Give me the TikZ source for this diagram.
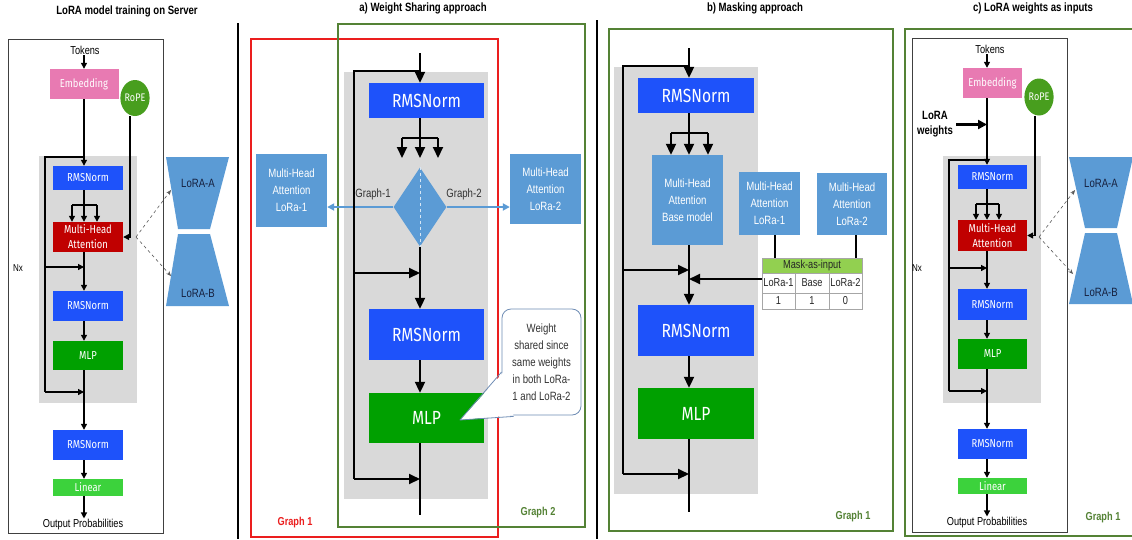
\documentclass[tikz,border=0pt]{standalone}
\usepackage{fontspec}
\setmainfont{Liberation Sans}
\newfontfamily\nar{Liberation Sans}[FakeStretch=0.8]
\newfontfamily\ubu{Fira Sans}[FakeStretch=0.82]
\usetikzlibrary{arrows.meta,shapes.geometric}
\definecolor{bluec}{RGB}{30,82,250}
\definecolor{pinkc}{RGB}{232,122,178}
\definecolor{redc}{RGB}{192,0,0}
\definecolor{mlpc}{RGB}{0,160,0}
\definecolor{linc}{RGB}{60,210,60}
\definecolor{ropec}{RGB}{72,158,30}
\definecolor{steel}{RGB}{91,155,213}
\definecolor{grayb}{RGB}{217,217,217}
\definecolor{framegreen}{RGB}{84,130,53}
\definecolor{framered}{RGB}{235,30,30}
\definecolor{maskc}{RGB}{146,208,80}
\definecolor{navy}{RGB}{22,32,62}
\definecolor{calb}{RGB}{110,140,180}
\tikzset{
  bx/.style={inner sep=0pt, text=white, align=center, font=\ubu\fontsize{11.5}{15}\selectfont},
  bxb/.style={inner sep=0pt, text=white, align=center, font=\ubu\fontsize{19}{22}\selectfont},
  lb/.style={inner sep=0pt, text=white, fill=steel, align=center, font=\nar\fontsize{12}{17}\selectfont},
  txt/.style={inner sep=1pt, font=\nar\fontsize{11.5}{13}\selectfont},
  ttl/.style={inner sep=1pt, font=\nar\bfseries\fontsize{12}{14}\selectfont},
  glbl/.style={inner sep=1pt, font=\nar\bfseries\fontsize{11.5}{13}\selectfont},
  lbl/.style={inner sep=1pt, text=black!80, font=\nar\fontsize{12}{14}\selectfont},
  lt/.style={inner sep=0pt, text=navy, font=\nar\fontsize{12}{14}\selectfont},
  cell/.style={draw=gray!70, fill=white, inner sep=0pt, minimum height=20pt, text=black!85, font=\nar\fontsize{11.5}{13}\selectfont},
  ln/.style={line width=1.3pt},
  sarr/.style={line width=1.3pt, -{Triangle[length=6pt,width=6pt]}},
  bln/.style={line width=2pt},
  barr/.style={line width=2pt, -{Triangle[length=11pt,width=10pt]}},
  dsh/.style={dashed, line width=0.6pt, draw=black!65, -{Stealth[length=5pt,width=4pt]}},
  starr/.style={draw=steel, line width=1.8pt, -{Triangle[length=7pt,width=7pt]}},
  frame/.style={draw=black!75, line width=1pt},
  greenf/.style={draw=framegreen, line width=2pt},
  redf/.style={draw=framered, line width=2pt},
}
\begin{document}
\begin{tikzpicture}[x=1pt,y=-1pt]
\useasboundingbox (0,0) rectangle (1132,539);
\fill[white] (0,0) rectangle (1132,539);

%%%%%%%%%%%%%%%% Left panel
\node[ttl] (t0) at (127,11) {LoRA model training on Server};
\draw[frame] (8,39) rectangle (163,533);
\fill[grayb] (39,156) rectangle (137,403);
\node[txt] (tok1) at (85,50) {Tokens};
\node[bx, fill=pinkc, minimum width=69pt, minimum height=30pt] (emb1) at (84,84) {Embedding};
\node[ellipse, fill=ropec, minimum width=29pt, minimum height=36pt, inner sep=0pt, text=white, font=\ubu\fontsize{11}{13}\selectfont] (rope1) at (135,98) {RoPE};
\node[bx, fill=bluec, minimum width=70pt, minimum height=24pt] (rms1a) at (88,178) {RMSNorm};
\node[bx, fill=redc, minimum width=70pt, minimum height=30pt] (att1) at (88,237) {Multi-Head\\Attention};
\node[bx, fill=bluec, minimum width=70pt, minimum height=30pt] (rms1b) at (88,306) {RMSNorm};
\node[bx, fill=mlpc, minimum width=70pt, minimum height=29pt] (mlp1) at (88,355.5) {MLP};
\node[bx, fill=bluec, minimum width=70pt, minimum height=30pt] (rms1c) at (88,445) {RMSNorm};
\node[bx, fill=linc, minimum width=70pt, minimum height=17pt] (lin1) at (88,487.5) {Linear};
\node[txt] (out1) at (83,525) {Output Probabilities};
\node[txt, font=\nar\fontsize{10}{12}\selectfont] (nx1) at (18,268) {Nx};
\coordinate (f1) at (84,205);
\coordinate (r1) at (45,157);
\coordinate (r1m) at (45,267);
\coordinate (r1b) at (45,392);
\draw[sarr] (tok1.south -| f1) -- (f1 |- emb1.north);
\draw[sarr] (emb1.south -| f1) -- (f1 |- rms1a.north);
\draw[ln] (rms1a.south -| f1) -- (f1);
\draw[ln] ([xshift=-12pt]f1) -- ([xshift=13pt]f1);
\foreach \d in {-12,0,13} \draw[sarr] ([xshift=\d pt]f1) -- ([xshift=\d pt]f1 |- att1.north);
\draw[sarr] (att1.south -| f1) -- (f1 |- rms1b.north);
\draw[sarr] (rms1b.south -| f1) -- (f1 |- mlp1.north);
\draw[sarr] (mlp1.south -| f1) -- (f1 |- rms1c.north);
\draw[sarr] (rms1c.south -| f1) -- (f1 |- lin1.north);
\draw[sarr] (lin1.south -| f1) -- (f1 |- out1.north);
\draw[ln] (f1 |- r1) -- (r1) -- (r1b);
\draw[sarr] (r1m) -- (r1m -| f1);
\draw[sarr] (r1b) -- (r1b -| f1);
\draw[sarr] ([xshift=-5pt]rope1.south) -- ([xshift=-5pt]rope1.south |- att1.east) -- (att1.east);
\fill[steel] (166,157) -- (229,157) -- (210,229) -- (178,229) -- cycle;
\fill[steel] (178,234) -- (210,234) -- (229,306) -- (166,306) -- cycle;
\node[lt] (la1) at (198,183) {LoRA-A};
\node[lt] (lb1) at (198,293) {LoRA-B};
\coordinate (d1) at (136,237);
\coordinate (da1) at (171,190);
\coordinate (db1) at (171,276);
\draw[dsh] (d1) -- (da1);
\draw[dsh] (d1) -- (db1);

\draw[line width=2.5pt] (238,23) -- (238,539);

%%%%%%%%%%%%%%%% Panel a
\node[ttl] (ta0) at (423,8) {a) Weight Sharing approach};
\fill[grayb] (344,72) rectangle (488,499);
\draw[redf] (251,39) rectangle (498,537);
\draw[greenf] (338,24) rectangle (585,527);
\coordinate (ta) at (420,53);
\coordinate (f2) at (420,138);
\coordinate (f2e) at (420,158);
\coordinate (r2) at (354,71);
\coordinate (r2m) at (354,273);
\coordinate (r2b) at (354,479);
\coordinate (ea) at (420,515);
\node[bxb, fill=bluec, minimum width=115pt, minimum height=35pt] (rms2a) at (426.5,100.5) {RMSNorm};
\node[diamond, fill=steel, minimum width=53pt, minimum height=79pt, inner sep=0pt] (dia) at (420,207) {};
\draw[white!75!steel, dashed, line width=0.6pt] (dia.north) -- (dia.south);
\node[lb, minimum width=71pt, minimum height=73pt] (l1a) at (291.5,190.5) {Multi-Head\\Attention\\LoRa-1};
\node[lb, minimum width=71pt, minimum height=70pt] (l2a) at (545.5,189) {Multi-Head\\Attention\\LoRa-2};
\node[lbl] (g1a) at (373,194) {Graph-1};
\node[lbl] (g2a) at (464,194) {Graph-2};
\node[bxb, fill=bluec, minimum width=115pt, minimum height=51pt] (rms2b) at (426.5,334.5) {RMSNorm};
\node[bxb, fill=mlpc, minimum width=115pt, minimum height=50pt] (mlp2) at (426.5,418) {MLP};
\draw[barr] (ta) -- (ta |- rms2a.north);
\draw[bln] (rms2a.south -| f2) -- (f2);
\draw[bln] ([xshift=-18pt]f2) -- ([xshift=18pt]f2);
\foreach \d in {-18,0,18} \draw[barr] ([xshift=\d pt]f2) -- ([xshift=\d pt]f2e);
\draw[starr] (dia.west) -- (dia.west -| l1a.east);
\draw[starr] (dia.east) -- (dia.east -| l2a.west);
\draw[barr] (dia.south) -- (dia.south |- rms2b.north);
\draw[barr] (rms2b.south -| ta) -- (ta |- mlp2.north);
\draw[bln] (mlp2.south -| ta) -- (ea);
\draw[bln] (ta |- r2) -- (r2) -- (r2b);
\draw[barr] (r2m) -- (r2m -| ta);
\draw[barr] (r2b) -- (r2b -| ta);
\node[draw=calb, line width=0.8pt, fill=white, rounded corners=9pt, minimum width=79pt, minimum height=106pt, align=center, inner sep=0pt, text=black!80, font=\nar\fontsize{12}{17}\selectfont] (call) at (541.5,362) {Weight\\shared since\\same weights\\in both LoRa-\\1 and LoRa-2};
\coordinate (ctip) at (460,420);
\coordinate (cA) at ([yshift=-10pt]call.west);
\coordinate (cB) at ([xshift=12pt,yshift=-1pt]call.south west);
\fill[white] ([xshift=2pt]cA) -- (ctip) -- ([yshift=1pt]cB) -- ([xshift=8pt,yshift=12pt]call.south west) -- cycle;
\draw[draw=calb, line width=0.8pt, line join=round] (cA) -- (ctip) -- (cB);
\node[glbl, text=framered] (gr1) at (295,523) {Graph 1};
\node[glbl, text=framegreen] (gr2) at (538,513) {Graph 2};

\draw[line width=2.5pt] (597,20) -- (597,539);

%%%%%%%%%%%%%%%% Panel b
\node[ttl] (tb0) at (755,8) {b) Masking approach};
\draw[greenf] (609,29) rectangle (893,531);
\fill[grayb] (614,67) rectangle (758,494);
\coordinate (tb) at (689,48);
\coordinate (f3) at (689,133);
\coordinate (r3) at (623,66);
\coordinate (r3m) at (623,270);
\coordinate (r3b) at (623,474);
\coordinate (eb) at (689,512);
\node[bxb, fill=bluec, minimum width=116pt, minimum height=35pt] (rms3a) at (696,95.5) {RMSNorm};
\node[lb, minimum width=71pt, minimum height=90pt] (base) at (687.5,200) {Multi-Head\\Attention\\Base model};
\node[lb, minimum width=61pt, minimum height=63pt] (l1b) at (769.5,203.5) {Multi-Head\\Attention\\LoRa-1};
\node[lb, minimum width=70pt, minimum height=62pt] (l2b) at (852,204) {Multi-Head\\Attention\\LoRa-2};
\node[draw=gray!70, fill=maskc, inner sep=0pt, minimum width=100pt, minimum height=15pt, text=black!85, font=\nar\fontsize{11.5}{13}\selectfont] (mhdr) at (812,265.5) {Mask-as-input};
\node[cell, minimum width=33pt] (c11) at (778.5,283) {LoRa-1};
\node[cell, minimum width=34pt] (c12) at (812,283) {Base};
\node[cell, minimum width=33pt] (c13) at (845.5,283) {LoRa-2};
\node[cell, minimum width=33pt, minimum height=16pt] (c21) at (778.5,301) {1};
\node[cell, minimum width=34pt, minimum height=16pt] (c22) at (812,301) {1};
\node[cell, minimum width=33pt, minimum height=16pt] (c23) at (845.5,301) {0};
\node[bxb, fill=bluec, minimum width=116pt, minimum height=51pt] (rms3b) at (696,330.5) {RMSNorm};
\node[bxb, fill=mlpc, minimum width=116pt, minimum height=51pt] (mlp3) at (696,413.5) {MLP};
\draw[barr] (tb) -- (tb |- rms3a.north);
\draw[bln] (rms3a.south -| f3) -- (f3);
\draw[bln] ([xshift=-18pt]f3) -- ([xshift=19pt]f3);
\foreach \d in {-18,0,19} \draw[barr] ([xshift=\d pt]f3) -- ([xshift=\d pt]f3 |- base.north);
\draw[bln] ([xshift=5pt]l1b.south) -- ([xshift=5pt]l1b.south |- mhdr.north);
\draw[bln] ([xshift=4pt]l2b.south) -- ([xshift=4pt]l2b.south |- mhdr.north);
\draw[barr] ([yshift=4pt]c11.west) -- ([yshift=4pt]c11.west -| tb);
\draw[barr] (base.south -| tb) -- (tb |- rms3b.north);
\draw[barr] (rms3b.south -| tb) -- (tb |- mlp3.north);
\draw[bln] (mlp3.south -| tb) -- (eb);
\draw[bln] (tb |- r3) -- (r3) -- (r3b);
\draw[barr] (r3m) -- (r3m -| tb);
\draw[barr] (r3b) -- (r3b -| tb);
\node[glbl, text=framegreen] (gb1) at (853,517) {Graph 1};

%%%%%%%%%%%%%%%% Panel c
\node[ttl] (tc0) at (1033,8) {c) LoRA weights as inputs};
\draw[greenf] (905,29) rectangle (1140,536);
\draw[frame] (912,38) rectangle (1067,532);
\fill[grayb] (943,156) rectangle (1041,403);
\node[txt] (tok3) at (990,49) {Tokens};
\node[bx, fill=pinkc, minimum width=59pt, minimum height=30pt] (emb3) at (992.5,83) {Embedding};
\node[ellipse, fill=ropec, minimum width=29pt, minimum height=37pt, inner sep=0pt, text=white, font=\ubu\fontsize{11}{13}\selectfont] (rope3) at (1039,97) {RoPE};
\node[bx, fill=bluec, minimum width=69pt, minimum height=24pt] (rms4a) at (992.5,177) {RMSNorm};
\node[bx, fill=redc, minimum width=69pt, minimum height=31pt] (att4) at (992.5,235.5) {Multi-Head\\Attention};
\node[bx, fill=bluec, minimum width=69pt, minimum height=31pt] (rms4b) at (992.5,304.5) {RMSNorm};
\node[bx, fill=mlpc, minimum width=69pt, minimum height=30pt] (mlp4) at (992.5,354) {MLP};
\node[bx, fill=bluec, minimum width=69pt, minimum height=30pt] (rms4c) at (992.5,444) {RMSNorm};
\node[bx, fill=linc, minimum width=69pt, minimum height=16pt] (lin4) at (992.5,486) {Linear};
\node[txt] (out4) at (987,523) {Output Probabilities};
\node[txt, font=\nar\fontsize{10}{12}\selectfont] (nx4) at (917,268) {Nx};
\node[glbl, align=center, font=\nar\bfseries\fontsize{12}{15}\selectfont] (lwt) at (935,124.5) {LoRA\\weights};
\coordinate (f4) at (987,204);
\coordinate (r4) at (949,160);
\coordinate (r4m) at (949,268);
\coordinate (r4b) at (949,391);
\draw[sarr] (tok3.south -| f4) -- (f4 |- emb3.north);
\draw[sarr] (emb3.south -| f4) -- (f4 |- rms4a.north);
\draw[line width=2.6pt, -{Triangle[length=9pt,width=9pt]}] ([xshift=2pt]lwt.east) -- (lwt.east -| f4);
\draw[ln] (rms4a.south -| f4) -- (f4);
\draw[ln] ([xshift=-11pt]f4) -- ([xshift=12pt]f4);
\foreach \d in {-11,0,12} \draw[sarr] ([xshift=\d pt]f4) -- ([xshift=\d pt]f4 |- att4.north);
\draw[sarr] (att4.south -| f4) -- (f4 |- rms4b.north);
\draw[sarr] (rms4b.south -| f4) -- (f4 |- mlp4.north);
\draw[sarr] (mlp4.south -| f4) -- (f4 |- rms4c.north);
\draw[sarr] (rms4c.south -| f4) -- (f4 |- lin4.north);
\draw[sarr] (lin4.south -| f4) -- (f4 |- out4.north);
\draw[ln] (f4 |- r4) -- (r4) -- (r4b);
\draw[sarr] (r4m) -- (r4m -| f4);
\draw[sarr] (r4b) -- (r4b -| f4);
\draw[sarr] ([xshift=-4pt]rope3.south) -- ([xshift=-4pt]rope3.south |- att4.east) -- (att4.east);
\fill[steel] (1069,157) -- (1133,157) -- (1117,228) -- (1085,228) -- cycle;
\fill[steel] (1085,233) -- (1117,233) -- (1133,304) -- (1069,304) -- cycle;
\node[lt] (la4) at (1101,183) {LoRA-A};
\node[lt] (lb4) at (1101,292) {LoRA-B};
\coordinate (d4) at (1039,237);
\coordinate (da4) at (1075,190);
\coordinate (db4) at (1073,274);
\draw[dsh] (d4) -- (da4);
\draw[dsh] (d4) -- (db4);
\node[glbl, text=framegreen] (gc1) at (1103,518) {Graph 1};
\end{tikzpicture}
\end{document}
